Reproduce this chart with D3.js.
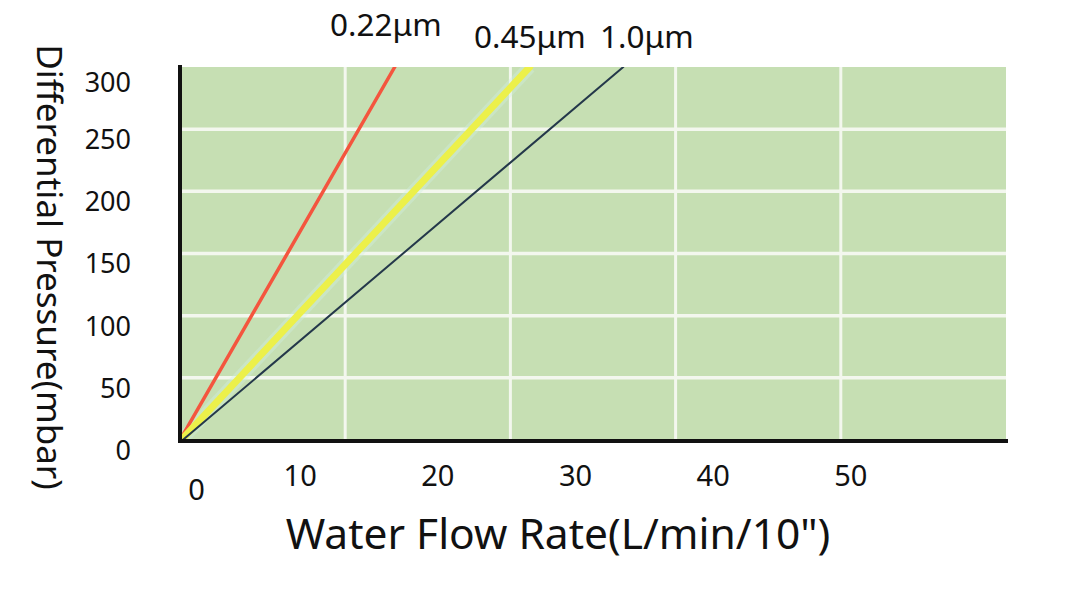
<!DOCTYPE html>
<html><head><meta charset="utf-8">
<script src="https://cdn.jsdelivr.net/npm/d3@7"></script>
<style>body{margin:0;background:#fff}svg{display:block}text{font-family:"Noto Sans","Open Sans",sans-serif;fill:#111}</style>
</head><body><svg id="c" width="1080" height="600"></svg>
<script>
// ---- data ----
const xTicks = [0, 10, 20, 30, 40, 50];
const yTicks = [0, 50, 100, 150, 200, 250, 300];
const xGrid = [12, 24, 36, 48];
const yGrid = [50, 100, 150, 200, 250];
const seriesNames = ["0.22μm", "0.45μm", "1.0μm"];
const flow022 = [0, 15.6];
const flow045 = [0.1, 25.4];
const flow10  = [0.2, 32.2];
const pressure = [0, 300];
const xTitle = 'Water Flow Rate(L/min/10")';
const yTitle = "Differential Pressure(mbar)";

const svg = d3.select("#c");
const x = d3.scaleLinear().domain([0, 60]).range([180, 1006]);
const y = d3.scaleLinear().domain([0, 300]).range([440, 67]);

svg.append("defs").append("clipPath").attr("id","clip").append("rect")
  .attr("x", x(0)).attr("y", y(300)).attr("width", x(60)-x(0)).attr("height", y(0)-y(300));

svg.append("rect").attr("x", x(0)).attr("y", y(300)).attr("width", x(60)-x(0)).attr("height", y(0)-y(300))
  .attr("fill", "#c6dfb3");

const g = svg.append("g");
g.selectAll(".vg").data(xGrid).join("line").attr("x1", d=>x(d)).attr("x2", d=>x(d))
  .attr("y1", y(300)).attr("y2", y(0)).attr("stroke", "#f3f7ee").attr("stroke-width", 3);
g.selectAll(".hg").data(yGrid).join("line").attr("y1", d=>y(d)).attr("y2", d=>y(d))
  .attr("x1", x(0)).attr("x2", x(60)).attr("stroke", "#f3f7ee").attr("stroke-width", 3.5);

const series = [
  {name: seriesNames[0], xs: flow022, color: "#f4553e", w: 3.5},
  {name: seriesNames[1], xs: flow045, color: "#ecf04a", w: 7},
  {name: seriesNames[2], xs: flow10,  color: "#24384a", w: 2},
];
const line = d3.line().x(d=>x(d[0])).y(d=>y(d[1]));
const lg = svg.append("g").attr("clip-path", "url(#clip)");
// faint halo around the yellow line, as in the reference
lg.append("path").datum(flow045.map((v,i)=>[v, pressure[i]]))
  .attr("d", line).attr("fill", "none").attr("stroke", "#cfeee0").attr("stroke-width", 13).attr("opacity", 0.4);
series.forEach(s => {
  lg.append("path").datum(s.xs.map((v,i)=>[v, pressure[i]]))
    .attr("d", line).attr("fill", "none").attr("stroke", s.color).attr("stroke-width", s.w)
    .attr("stroke-linecap", "round");
});

// axes
const xAxis = d3.axisBottom(x).tickValues(xTicks).tickSize(0).tickFormat(d3.format("d"));
const xa = svg.append("g").attr("transform", `translate(0,${y(0)})`).call(xAxis);
xa.select(".domain").remove();
xa.selectAll(".tick text").attr("font-size", 29).attr("fill", "#111")
  .attr("font-family", '"Noto Sans",sans-serif')
  .attr("dx", d => d === 0 ? 16 : -18).attr("dy", 0)
  .attr("y", d => d === 0 ? 60 : 46);

const yAxis = d3.axisLeft(y).tickValues(yTicks).tickSize(0).tickFormat(d3.format("d"));
const ya = svg.append("g").attr("transform", `translate(${x(0)},0)`).call(yAxis);
ya.select(".domain").remove();
ya.selectAll(".tick text").attr("font-size", 27).attr("fill", "#111")
  .attr("font-family", '"Noto Sans",sans-serif')
  .attr("x", -49).attr("dy", d => d === 300 ? "0.9em" : "0.72em");

svg.append("line").attr("x1", x(0)).attr("x2", x(0)).attr("y1", 65).attr("y2", 443)
  .attr("stroke", "#111").attr("stroke-width", 4);
svg.append("line").attr("x1", 178).attr("x2", 1008).attr("y1", y(0)+1).attr("y2", y(0)+1)
  .attr("stroke", "#111").attr("stroke-width", 4);

// series labels
const labelPos = [[330, 36], [474, 48], [600, 48]];
svg.selectAll(".sl").data(seriesNames).join("text").attr("class","sl")
  .attr("x", (d,i)=>labelPos[i][0]).attr("y", (d,i)=>labelPos[i][1])
  .attr("font-size", 31.5).text(d=>d);

svg.append("text").attr("x", 558).attr("y", 549).attr("text-anchor", "middle")
  .attr("font-size", 42.5).text(xTitle);
svg.append("text").attr("transform", "translate(37,267) rotate(90)").attr("text-anchor", "middle")
  .attr("font-size", 35).text(yTitle);
</script></body></html>
